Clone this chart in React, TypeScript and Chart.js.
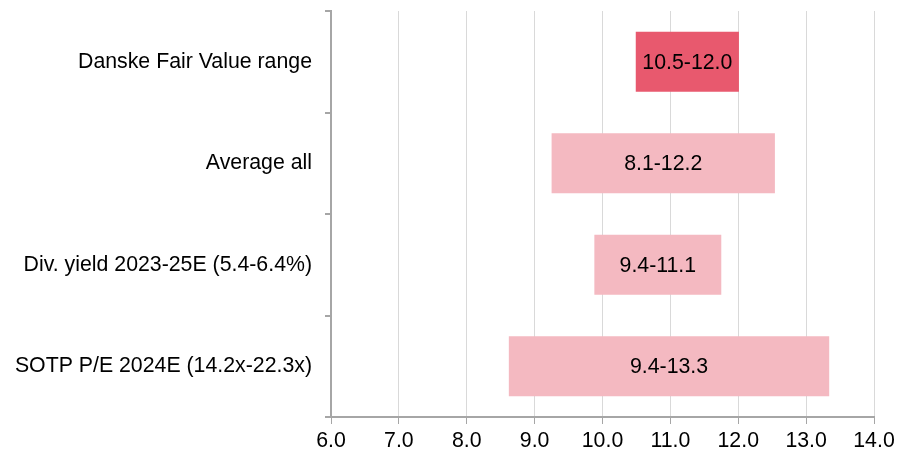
import React, { useEffect, useRef } from "react";
import { Chart, registerables } from "chart.js";

Chart.register(...registerables);

const categories = [
  "Danske Fair Value range",
  "Average all",
  "Div. yield 2023-25E (5.4-6.4%)",
  "SOTP P/E 2024E (14.2x-22.3x)",
];
const rangeLow = [10.49, 9.25, 9.88, 8.62];
const rangeHigh = [12.01, 12.54, 11.75, 13.34];
const rangeLabels = ["10.5-12.0", "8.1-12.2", "9.4-11.1", "9.4-13.3"];
const barColors = ["#e8596e", "#f4b9c1", "#f4b9c1", "#f4b9c1"];
const xMin = 6;
const xMax = 14;

const FONT = "'Liberation Sans', Arial, sans-serif";
const FS = 21.3;

const labelPlugin = {
  id: "rangeLabels",
  afterDatasetsDraw(chart: any) {
    const ctx = chart.ctx;
    const meta = chart.getDatasetMeta(0);
    ctx.save();
    ctx.font = `${FS}px ${FONT}`;
    ctx.fillStyle = "#000000";
    ctx.textAlign = "center";
    ctx.textBaseline = "middle";
    meta.data.forEach((el: any, i: number) => {
      const cx = (el.x + el.base) / 2;
      ctx.fillText(rangeLabels[i], cx, el.y + 1);
    });
    ctx.restore();
  },
};

export default function App() {
  const ref = useRef<HTMLCanvasElement | null>(null);
  useEffect(() => {
    document.body.style.margin = "0";
    if (!ref.current) return;
    const chart = new Chart(ref.current, {
      type: "bar",
      data: {
        labels: categories,
        datasets: [
          {
            data: rangeLow.map((v, i) => [v, rangeHigh[i]]) as any,
            backgroundColor: barColors,
            borderWidth: 0,
            categoryPercentage: 1,
            barPercentage: 0.59,
          },
        ],
      },
      options: {
        indexAxis: "y",
        animation: false,
        responsive: false,
        maintainAspectRatio: false,
        layout: { padding: { top: 11, right: 29, left: 0, bottom: 0 } },
        plugins: {
          legend: { display: false },
          tooltip: { enabled: false },
        },
        scales: {
          x: {
            type: "linear",
            min: xMin,
            max: xMax,
            ticks: {
              stepSize: 1,
              color: "#000000",
              font: { family: FONT, size: FS },
              padding: 4,
              callback: (v: any) => Number(v).toFixed(1),
            },
            grid: {
              color: "#d9d9d9",
              lineWidth: 1,
              tickColor: "#a6a6a6",
              tickLength: 7,
            },
            border: { display: true, color: "#a6a6a6", width: 2 },
            afterFit: (s: any) => {
              s.height = 37;
            },
          },
          y: {
            type: "category",
            ticks: {
              color: "#000000",
              font: { family: FONT, size: FS },
              padding: 13,
            },
            grid: {
              offset: true,
              drawOnChartArea: false,
              drawTicks: true,
              tickLength: 6,
              tickColor: "#a6a6a6",
              color: "#a6a6a6",
              lineWidth: 2,
            },
            border: { display: true, color: "#a6a6a6", width: 2 },
            afterFit: (s: any) => {
              s.width = 331;
              s.paddingTop = 0;
              s.paddingBottom = 0;
            },
          },
        },
      },
      plugins: [labelPlugin],
    });
    return () => chart.destroy();
  }, []);
  return (
    <div style={{ width: 903, height: 454 }}>
      <canvas ref={ref} width={903} height={454} style={{ width: 903, height: 454 }} />
    </div>
  );
}
